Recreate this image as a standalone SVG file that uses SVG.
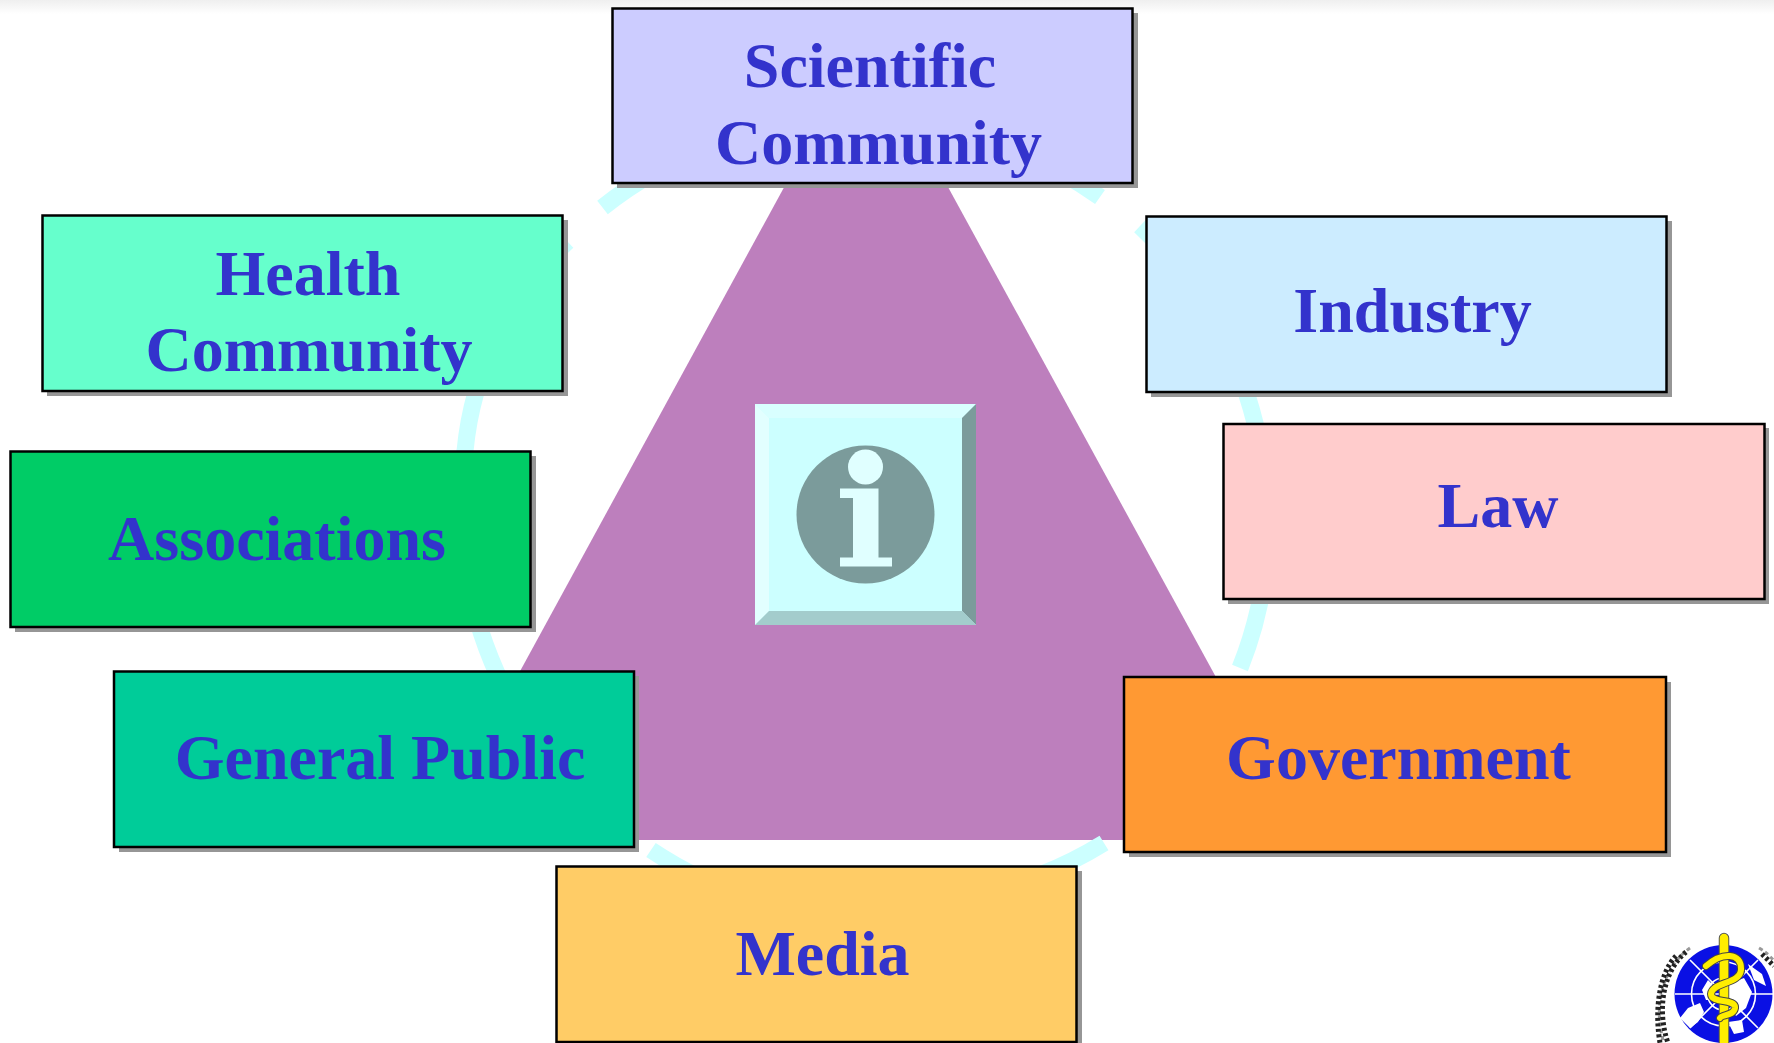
<svg xmlns="http://www.w3.org/2000/svg" width="1774" height="1043" viewBox="0 0 1774 1043">
<defs><linearGradient id="topfade" x1="0" y1="0" x2="0" y2="1"><stop offset="0" stop-color="#efefef"/><stop offset="1" stop-color="#fff"/></linearGradient></defs>
<style>
.ring{fill:none;stroke:#ccffff;stroke-width:17}
.shadow{fill:#969696}
.box{stroke:#000;stroke-width:2.5}
.label{font-family:"Liberation Serif","Times New Roman",serif;font-weight:700;font-size:64px;fill:#3333cc;text-anchor:middle}
.wreath{fill:none;stroke:#222;stroke-width:5;stroke-dasharray:3 2.500}
.wreath2{fill:none;stroke:#999;stroke-width:3;stroke-dasharray:4 3}
.grid{fill:none;stroke:#fff;stroke-width:1.6}
.snake{fill:none;stroke-linecap:round}
</style>
<rect width="1774" height="1043" fill="#fff"/>
<rect width="1774" height="14" fill="url(#topfade)"/>
<g id="triangle"><polygon points="866,37 428,840 1305,840" fill="#bd7fbd"/></g>
<g id="connectors">
<path class="ring" d="M655 172A406 406 0 0 0 602.5 207.5"/>
<path class="ring" d="M1060 172A406 406 0 0 1 1100 197"/>
<path class="ring" d="M567.5 241.5A330 330 0 0 0 465 451A406 406 0 0 0 505 690"/>
<path class="ring" d="M1140 226A406 406 0 0 1 1255 423A390 390 0 0 1 1240 668"/>
<path class="ring" d="M1104 843A406 406 0 0 1 1040 875"/>
<path class="ring" d="M651 850A406 406 0 0 0 700 878"/>
</g>
<g id="info-icon">
<rect x="755" y="404" width="221" height="221" fill="#ccffff"/>
<polygon points="755,404 976,404 962,418 769,418" fill="#d9ffff"/>
<polygon points="755,404 769,418 769,611 755,625" fill="#e2ffff"/>
<polygon points="976,404 976,625 962,611 962,418" fill="#7b9b9b"/>
<polygon points="755,625 976,625 962,611 769,611" fill="#a3cccc"/>
<circle cx="865.5" cy="514.5" r="69" fill="#7b9b9b"/>
<circle cx="865.5" cy="467" r="17.5" fill="#e0ffff"/>
<polygon points="840,488.500 878.500,488.500 878.500,557.500 892,557.500 892,566.500 840,566.500 840,557.500 853,557.500 853,498 840,498" fill="#e0ffff"/>
</g>
<g id="node-scientific"><rect class="shadow" x="617" y="13" width="521" height="175"/><rect class="box" x="612.500" y="8.500" width="520" height="174.500" fill="#ccccff"/><text class="label" x="870" y="87">Scientific</text><text class="label" x="878.500" y="164">Community</text></g>
<g id="node-health"><rect class="shadow" x="47" y="220" width="521" height="176"/><rect class="box" x="42.500" y="215.500" width="520" height="175.500" fill="#66ffcc"/><text class="label" x="308" y="295">Health</text><text class="label" x="309" y="371">Community</text></g>
<g id="node-industry"><rect class="shadow" x="1151" y="221" width="521" height="176"/><rect class="box" x="1146.500" y="216.500" width="520" height="175.500" fill="#ccecff"/><text class="label" x="1412.500" y="332">Industry</text></g>
<g id="node-law"><rect class="shadow" x="1228" y="428" width="541" height="176"/><rect class="box" x="1223.500" y="424" width="541" height="175" fill="#ffcccc"/><text class="label" x="1498" y="527">Law</text></g>
<g id="node-associations"><rect class="shadow" x="15" y="456" width="521" height="176"/><rect class="box" x="10.500" y="451.500" width="520" height="175.500" fill="#00cc66"/><text class="label" x="277" y="560">Associations</text></g>
<g id="node-general-public"><rect class="shadow" x="119" y="676" width="520" height="176"/><rect class="box" x="114" y="671.500" width="520" height="175.500" fill="#00cc99"/><text class="label" x="380" y="779">General Public</text></g>
<g id="node-government"><rect class="shadow" x="1129" y="682" width="542" height="175"/><rect class="box" x="1124" y="677" width="542" height="175" fill="#ff9933"/><text class="label" x="1398.500" y="779">Government</text></g>
<g id="node-media"><rect class="shadow" x="561" y="871" width="521" height="172"/><rect class="box" x="556.500" y="866.500" width="520" height="175.500" fill="#ffcc66"/><text class="label" x="822.500" y="975">Media</text></g>
<g id="who-logo">
<path class="wreath2" d="M1690 948C1664 966 1652 1005 1664 1043"/>
<path class="wreath" d="M1686 952C1664 970 1656 1008 1668 1043"/>
<path class="wreath" d="M1676 956C1660 972 1654 1008 1660 1043"/>
<path class="wreath2" d="M1759 948C1766 952 1771 957 1774 961"/>
<path class="wreath" d="M1762 954L1774 966"/>
<circle cx="1723.500" cy="994" r="49" fill="#0a10e4"/>
<path class="grid" d="M1675 994H1773M1723.500 945V1043"/>
<circle class="grid" cx="1723.500" cy="994" r="32"/>
<circle class="grid" cx="1723.500" cy="994" r="16"/>
<path class="grid" d="M1690 960L1758 1028M1758 960L1690 1028"/>
<path d="M1680 1018L1688 1008L1700 1003L1704 1012L1698 1022L1690 1028ZM1702 990L1708 980L1716 988L1712 1000L1706 1000ZM1728 984L1744 978L1752 992L1746 1008L1736 1016L1728 1002ZM1748 964L1762 974L1766 986L1754 980ZM1728 1022L1742 1020L1744 1032L1734 1034Z" fill="#fff"/>
<path class="snake" d="M1724 938V1043" stroke="#555" stroke-width="10.500"/>
<path class="snake" d="M1724 938V1043" stroke="#ffee00" stroke-width="8.500"/>
<path class="snake" d="M1706 966C1722 952 1742 952 1741 970C1740 984 1712 982 1711 994C1711 1004 1736 998 1735 1008C1734 1016 1722 1014 1720 1018" stroke="#444" stroke-width="8"/>
<path class="snake" d="M1706 966C1722 952 1742 952 1741 970C1740 984 1712 982 1711 994C1711 1004 1736 998 1735 1008C1734 1016 1722 1014 1720 1018" stroke="#ffee00" stroke-width="6"/>
</g>
</svg>
